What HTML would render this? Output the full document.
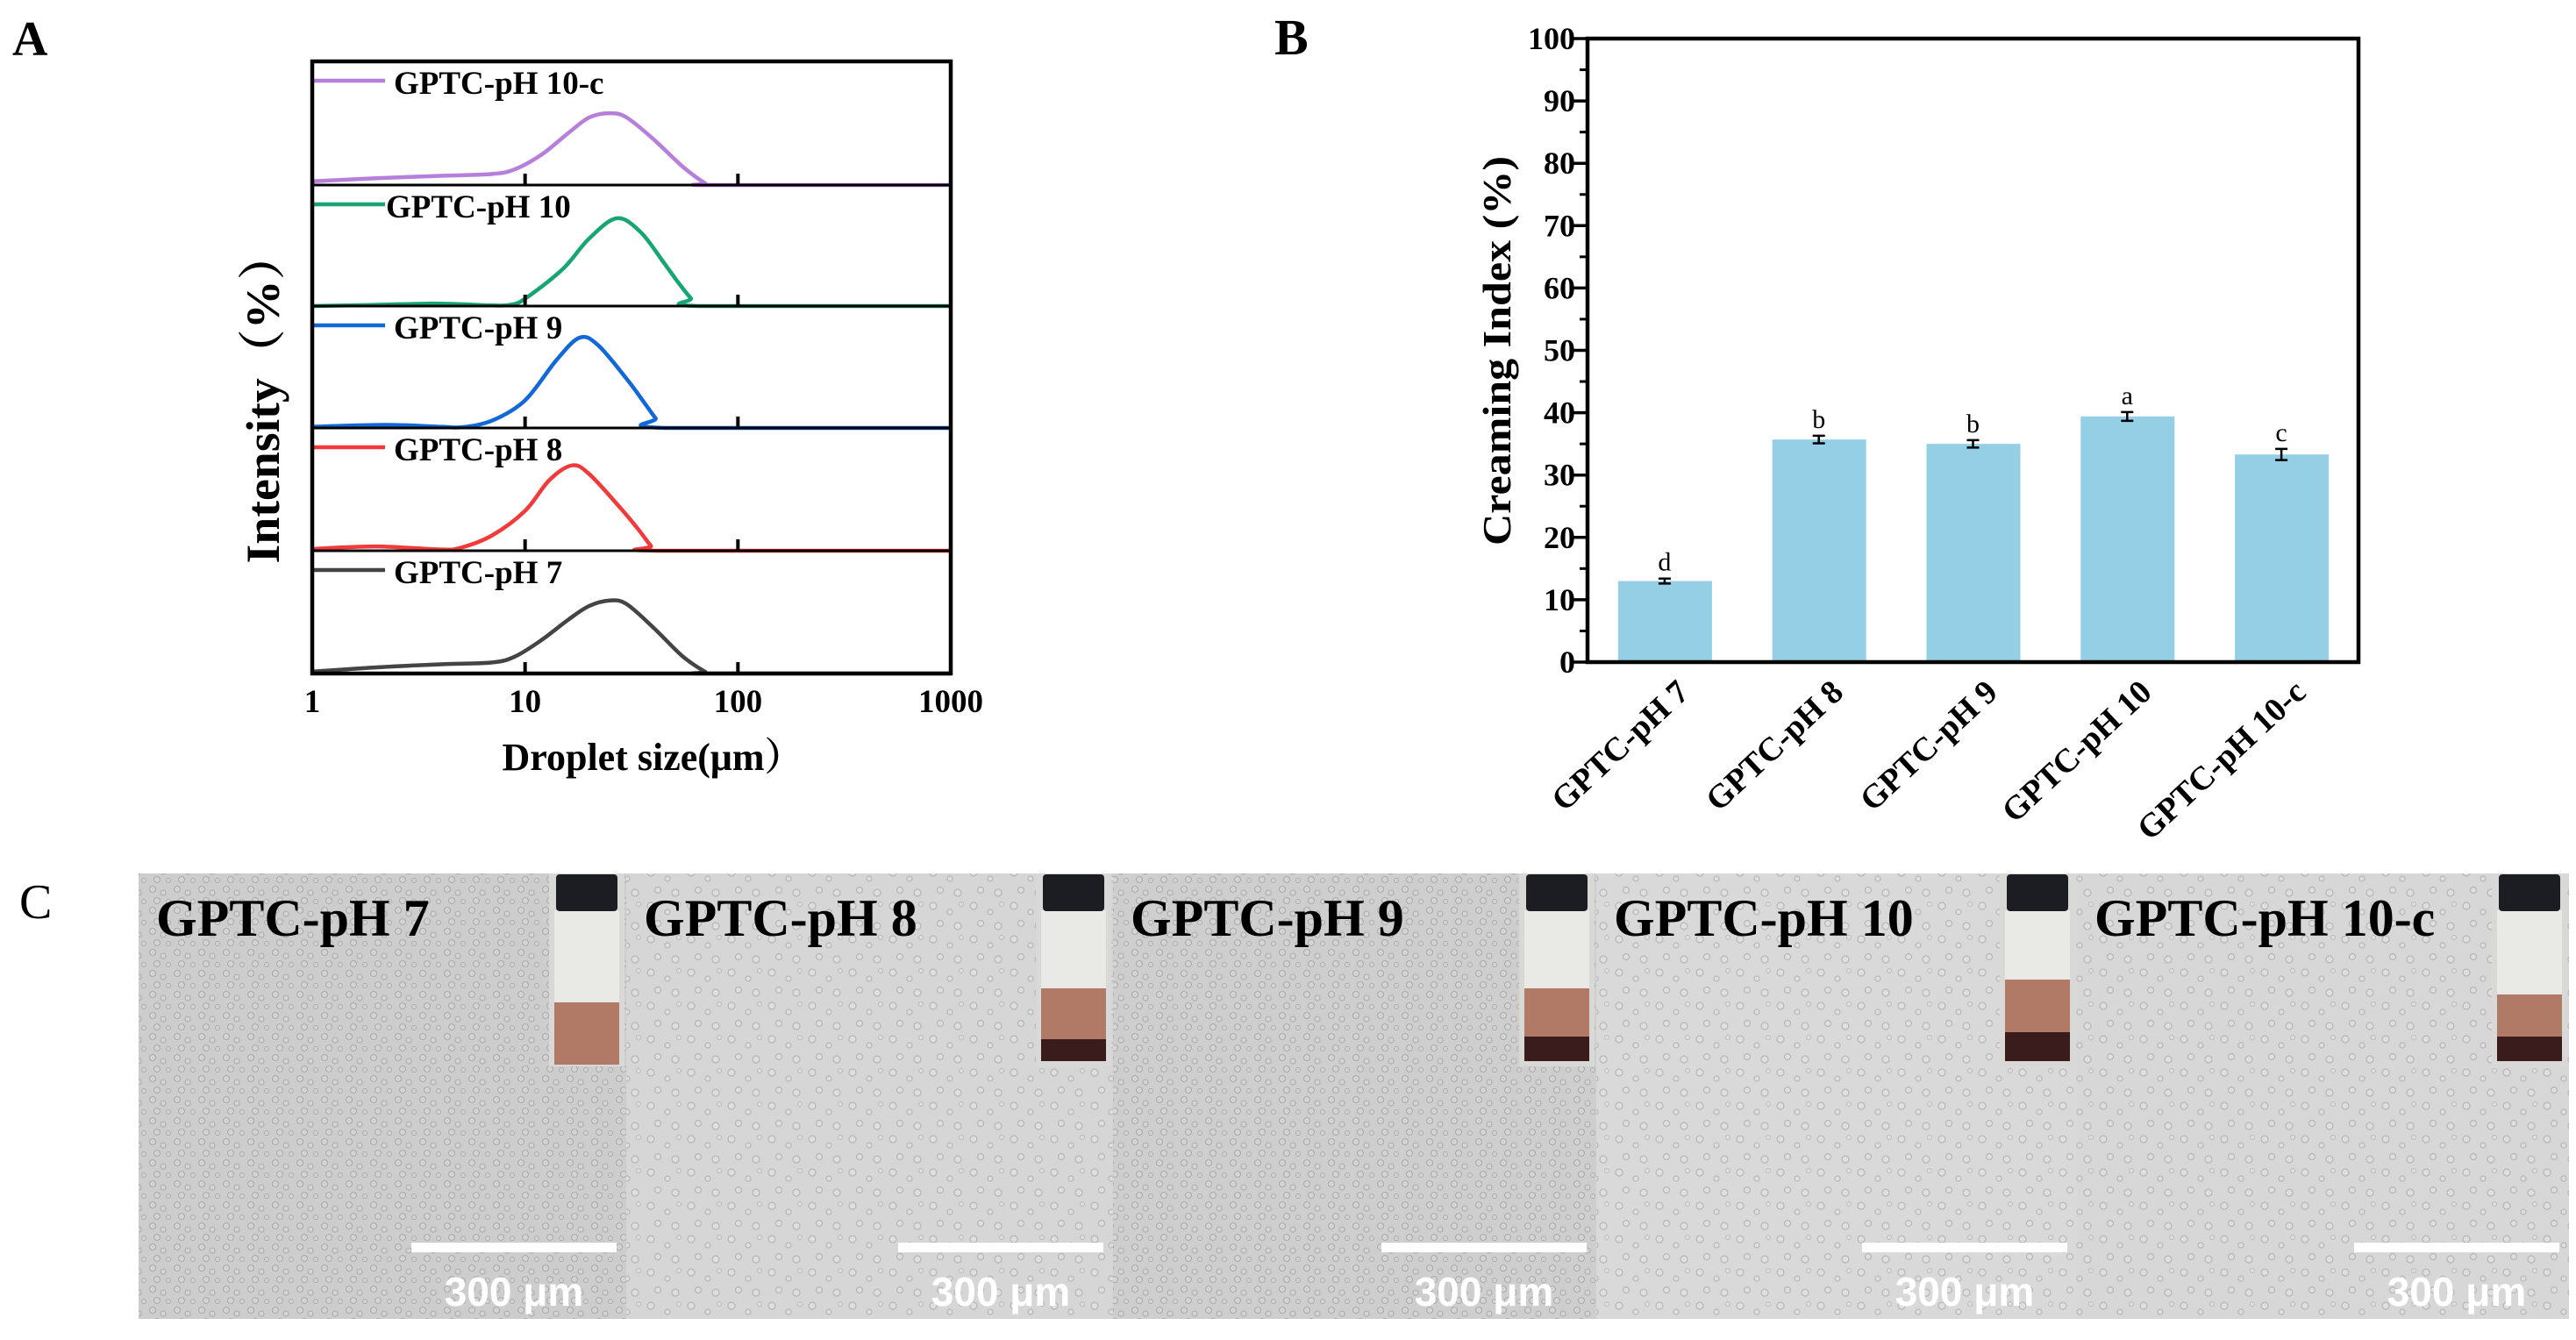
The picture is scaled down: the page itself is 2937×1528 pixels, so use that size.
<!DOCTYPE html>
<html><head><meta charset="utf-8"><style>
html,body{margin:0;padding:0;background:#fff}
svg{display:block}
text{font-family:"Liberation Serif","Noto Serif CJK SC",serif}
</style></head><body>
<svg id="fig" width="2937" height="1528" viewBox="0 0 2937 1528" xmlns="http://www.w3.org/2000/svg">
<defs>
<pattern id="drops" width="46" height="38" patternUnits="userSpaceOnUse">
<circle cx="6" cy="7" r="4" fill="#e4e4e4" stroke="#9a9a9a" stroke-width="1.2"/>
<circle cx="25" cy="14" r="3" fill="#e4e4e4" stroke="#9a9a9a" stroke-width="1.2"/>
<circle cx="38" cy="5" r="2.5" fill="#e4e4e4" stroke="#a0a0a0" stroke-width="1"/>
<circle cx="14" cy="27" r="3.5" fill="#e4e4e4" stroke="#9a9a9a" stroke-width="1.2"/>
<circle cx="34" cy="30" r="4" fill="#e4e4e4" stroke="#9a9a9a" stroke-width="1.2"/>
</pattern>
<pattern id="drops2" width="28" height="24" patternUnits="userSpaceOnUse">
<circle cx="6" cy="6" r="3.5" fill="#dadada" stroke="#8f8f8f" stroke-width="1.1"/>
<circle cx="18" cy="10" r="3" fill="#dadada" stroke="#8f8f8f" stroke-width="1.1"/>
<circle cx="11" cy="19" r="3.5" fill="#dadada" stroke="#8f8f8f" stroke-width="1.1"/>
<circle cx="24" cy="20" r="2.5" fill="#dadada" stroke="#8f8f8f" stroke-width="1"/>
</pattern>
</defs>
<g id="panelA"></g>
<g id="panelB"></g>
<g id="panelC"></g>
</svg>
<script>
const NS='http://www.w3.org/2000/svg';
function mk(parent,tag,attrs,txt){const e=document.createElementNS(NS,tag);for(const k in attrs)e.setAttribute(k,attrs[k]);if(txt!==undefined)e.textContent=txt;parent.appendChild(e);return e;}

/* ---------- Panel A data ---------- */
const seriesNames=['GPTC-pH 10-c','GPTC-pH 10','GPTC-pH 9','GPTC-pH 8','GPTC-pH 7'];
const seriesColors=['#b77fdc','#17a673','#1268d6','#f23a3a','#444444'];
const sizes10c=[1,2,4,7,9,12,16,20,25,30,40,55,70,75,1000];
const int10c=[0.6,1.1,1.5,1.8,2.6,5,8.5,11,11.7,11,7.5,3,0.3,0,0];
const sizes10=[1,2,3.5,5,7,8.5,10,15,20,27,35,45,52,60,66,1000];
const int10=[0,0.2,0.4,0.3,0.1,0.2,1.2,6,11,14.3,12,7,4,1.3,0,0];
const sizes9=[1,2.2,4,5,7,10,14,18,22,30,36,41,45,1000];
const int9=[0.2,0.5,0.2,0.1,1.2,4.5,11,14.7,13.5,8,4.3,1.6,0,0];
const sizes8=[1,2,4,5,7,10,13,16.6,20,28,34,39,42,1000];
const int8=[0.3,0.7,0.2,0.5,2.5,6.5,11.5,13.9,12.5,7,3.5,0.8,0,0];
const sizes7=[1,2,4,7,9,12,16,20,25,30,40,55,70,75,1000];
const int7=[0.3,1,1.5,1.8,2.8,5.5,8.8,11,11.9,11.3,7.5,2.8,0.3,0,0];
const allSizes=[sizes10c,sizes10,sizes9,sizes8,sizes7];
const allInts=[int10c,int10,int9,int8,int7];
const xTicksA=[1,10,100,1000];

/* ---------- Panel B data ---------- */
const groups=['GPTC-pH 7','GPTC-pH 8','GPTC-pH 9','GPTC-pH 10','GPTC-pH 10-c'];
const ciValues=[13.0,35.7,35.0,39.4,33.3];
const ciErrors=[0.4,0.6,0.6,0.7,0.9];
const sigLetters=['d','b','b','a','c'];
const yTicksB=[0,10,20,30,40,50,60,70,80,90,100];

/* ---------- Panel A drawing ---------- */
(function(){
const g=document.getElementById('panelA');
const L=356,R=1084,T=70,B=768;
const panelTops=[70,211,349,488,628],panelBots=[211,349,488,628,768];
const xs=v=>L+(Math.log10(v)-0)/3*(R-L);
const pxPerUnit=7;
const a=mk(g,'text',{x:14,y:63,'font-size':56,'font-weight':'bold'},'A');

for(let i=0;i<5;i++){
  const base=panelBots[i];
  const pts=allSizes[i].map((s,j)=>[xs(s),base-allInts[i][j]*pxPerUnit]);
  let d='M'+pts[0][0]+','+pts[0][1];
  for(let j=0;j<pts.length-1;j++){
    const p0=pts[Math.max(0,j-1)],p1=pts[j],p2=pts[j+1],p3=pts[Math.min(pts.length-1,j+2)];
    const c1=[p1[0]+(p2[0]-p0[0])/6,p1[1]+(p2[1]-p0[1])/6];
    const c2=[p2[0]-(p3[0]-p1[0])/6,p2[1]-(p3[1]-p1[1])/6];
    c1[1]=Math.min(c1[1],base);c2[1]=Math.min(c2[1],base);
    d+=` C${c1[0]},${c1[1]} ${c2[0]},${c2[1]} ${p2[0]},${p2[1]}`;
  }
  const p=mk(g,'path',{d:d,fill:'none',stroke:seriesColors[i],'stroke-width':4.5,'stroke-linejoin':'round'});
  
  
  if(i<4){const ln=mk(g,'line',{x1:L,x2:R,y1:base,y2:base,stroke:'#000','stroke-width':3});
  }
  [10,100].forEach(v=>{const t=mk(g,'line',{x1:xs(v),x2:xs(v),y1:base,y2:base-13,stroke:'#000','stroke-width':4});
  });
  const top=panelTops[i];
  const ll=mk(g,'line',{x1:L,x2:L+83,y1:top+22,y2:top+22,stroke:seriesColors[i],'stroke-width':4.5});
  
  const lt=mk(g,'text',{x:i==1?440:449,y:top+37,'font-size':37,'font-weight':'bold'},seriesNames[i]);
  
}
const box=mk(g,'rect',{x:L,y:T,width:R-L,height:B-T,fill:'none',stroke:'#000','stroke-width':4.5});

xTicksA.forEach(v=>{const t=mk(g,'text',{x:xs(v),y:812,'font-size':37,'font-weight':'bold','text-anchor':'middle'},String(v));
});
const xt=mk(g,'text',{x:744,y:878,'font-size':44,'font-weight':'bold','text-anchor':'middle'},'Droplet size(μm）');

const yt=mk(g,'text',{x:0,y:0,'font-size':54,'font-weight':'bold','text-anchor':'middle',transform:'translate(318,453) rotate(-90)',textLength:379,lengthAdjust:'spacingAndGlyphs'},'Intensity（%）');

})();

/* ---------- Panel B drawing ---------- */
(function(){
const g=document.getElementById('panelB');
const L=1810,R=2689,T=44,B=755;
const ys=v=>B-v/100*(B-T);
const step=(R-L)/5;
const bl=mk(g,'text',{x:1453,y:62,'font-size':58,'font-weight':'bold'},'B');

ciValues.forEach((v,i)=>{
  const cx=L+step*(i+0.5);
  const r=mk(g,'rect',{x:cx-53,y:ys(v),width:107,height:B-ys(v),fill:'#95cfe6'});
  
  const e=ciErrors[i];
  const eb=mk(g,'path',{d:`M${cx},${ys(v+e)}V${ys(v-e)}M${cx-7},${ys(v+e)}H${cx+7}M${cx-7},${ys(v-e)}H${cx+7}`,stroke:'#000','stroke-width':2.5,fill:'none'});
  
  const lt=mk(g,'text',{x:cx,y:ys(v+e)-9,'font-size':30,'text-anchor':'middle'},sigLetters[i]);
  
  const xl=mk(g,'text',{x:0,y:0,'font-size':38,'font-weight':'bold','text-anchor':'end',transform:`translate(${cx+30},792) rotate(-43)`},groups[i]);
  
});
for(let v=5;v<100;v+=10){const t=mk(g,'line',{x1:L,x2:L-9,y1:ys(v),y2:ys(v),stroke:'#000','stroke-width':3});
}
yTicksB.forEach(v=>{
  const t=mk(g,'line',{x1:L,x2:L-18,y1:ys(v),y2:ys(v),stroke:'#000','stroke-width':3.5});
  
  const tl=mk(g,'text',{x:1796,y:ys(v)+12,'font-size':36,'font-weight':'bold','text-anchor':'end'},String(v));
  
});
const box=mk(g,'rect',{x:L,y:T,width:R-L,height:B-T,fill:'none',stroke:'#000','stroke-width':4.5});

const yt=mk(g,'text',{x:0,y:0,'font-size':46,'font-weight':'bold','text-anchor':'middle',transform:'translate(1722,400) rotate(-90)',textLength:444,lengthAdjust:'spacingAndGlyphs'},'Creaming Index (%)');

})();

/* ---------- Panel C drawing ---------- */
(function(){
const g=document.getElementById('panelC');
const cl=mk(g,'text',{x:22,y:1047,'font-size':56},'C');

const edges=[158,714,1269,1820,2368,2929];
const bg=['#cdcdcd','#d6d6d6','#cecece','#d9d9d9','#d7d7d7'];
const pat=['drops2','drops','drops2','drops','drops'];
const vialLayers=[[1143,1214,1214],[1127,1185,1214],[1127,1182,1214],[1117,1177,1214],[1134,1182,1214]];
const names=['GPTC-pH 7','GPTC-pH 8','GPTC-pH 9','GPTC-pH 10','GPTC-pH 10-c'];
for(let i=0;i<5;i++){
  const x0=edges[i],x1=edges[i+1];
  const gr=mk(g,'g',{});
  
  mk(gr,'rect',{x:x0,y:996,width:x1-x0,height:508,fill:bg[i]});
  mk(gr,'rect',{x:x0,y:996,width:x1-x0,height:508,fill:'url(#'+pat[i]+')',opacity:0.55});
  const t=mk(gr,'text',{x:x0+20,y:1067,'font-size':60,'font-weight':'bold'},names[i]);
  
  const vx=x1-88,vw=86;
  const v=mk(gr,'g',{});
  
  mk(v,'rect',{x:vx,y:996,width:vw,height:220,fill:'#d8d8d6'});
  mk(v,'rect',{x:vx+6,y:1038,width:vw-12,height:vialLayers[i][0]-1038,fill:'#e9e9e6'});
  mk(v,'rect',{x:vx+6,y:vialLayers[i][0],width:vw-12,height:vialLayers[i][1]-vialLayers[i][0],fill:'#b07a66'});
  if(vialLayers[i][2]>vialLayers[i][1])mk(v,'rect',{x:vx+6,y:vialLayers[i][1],width:vw-12,height:vialLayers[i][2]-vialLayers[i][1]-4,fill:'#3a1c1c'});
  mk(v,'rect',{x:vx+8,y:997,width:vw-16,height:42,rx:4,fill:'#1b1d22'});
  const sb=mk(gr,'rect',{x:x1-245,y:1417,width:234,height:11,fill:'#fff'});
  
  const st=mk(gr,'text',{x:x1-128,y:1489,'font-size':46,'font-weight':'bold','text-anchor':'middle',fill:'#fff',style:'font-family:"Liberation Sans",sans-serif'},'300 μm');
  
}
})();
</script>
</body></html>
